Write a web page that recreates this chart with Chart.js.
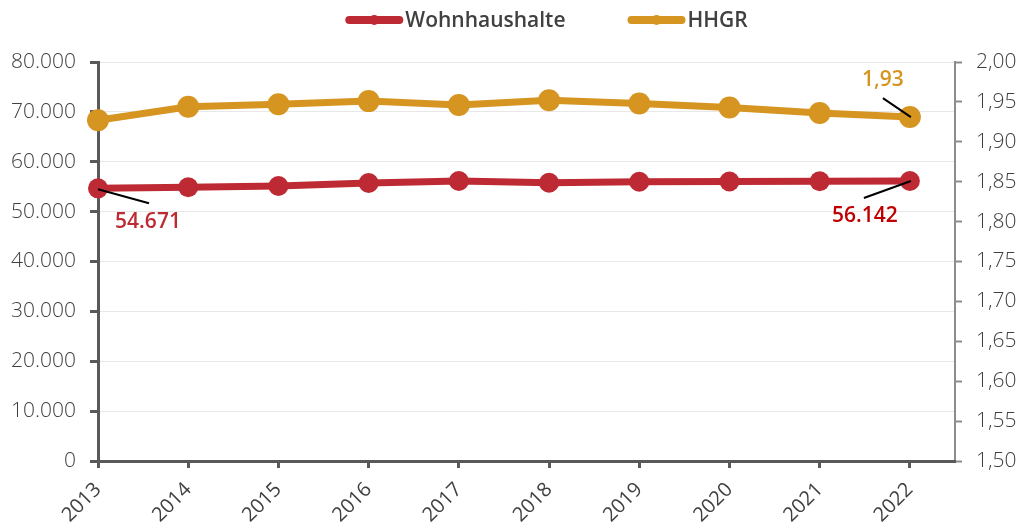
<!DOCTYPE html>
<html><head><meta charset="utf-8">
<script src="https://cdn.jsdelivr.net/npm/chart.js@4.4.1/dist/chart.umd.min.js"></script>
<style>html,body{margin:0;padding:0;background:#fff}#wrap{width:1023px;height:525px;position:relative}</style>
</head><body><div id="wrap"><canvas id="c"></canvas></div>
<script>
const years = [2013, 2014, 2015, 2016, 2017, 2018, 2019, 2020, 2021, 2022];
const wohnhaushalte = [54671, 54880, 55140, 55740, 56140, 55800, 56000, 56050, 56100, 56142];
const hhgr = [1.927, 1.944, 1.947, 1.951, 1.946, 1.952, 1.948, 1.943, 1.936, 1.931];
const leftTicks = [0, 10000, 20000, 30000, 40000, 50000, 60000, 70000, 80000];
const rightTicks = [1.50, 1.55, 1.60, 1.65, 1.70, 1.75, 1.80, 1.85, 1.90, 1.95, 2.00];
const seriesNames = ['Wohnhaushalte', 'HHGR'];
const seriesColors = ['#BE2A33', '#D69521'];
const callouts = ['54.671', '56.142', '1,93'];

const FONT = "'Open Sans', 'Noto Sans', sans-serif";
function fmtThousands(v) {
  return String(Math.round(v)).replace(/\B(?=(\d{3})+(?!\d))/g, '.');
}

const legendPlugin = {
  id: 'customLegend',
  afterDraw(chart) {
    const ctx = chart.ctx;
    ctx.save();
    ctx.font = '600 21px ' + FONT;
    ctx.textBaseline = 'middle';
    ctx.textAlign = 'left';
    const y = 20;
    const lineW = 58, gapText = 2, gapItem = 62;
    const widths = seriesNames.map(n => lineW + gapText + ctx.measureText(n).width);
    const total = widths.reduce((a, b) => a + b, 0) + gapItem;
    let x = chart.width / 2 - total / 2 + 35;
    seriesNames.forEach((name, i) => {
      ctx.strokeStyle = seriesColors[i];
      ctx.lineWidth = 8;
      ctx.lineCap = 'round';
      ctx.beginPath();
      ctx.moveTo(x + 4, y);
      ctx.lineTo(x + lineW - 4, y);
      ctx.stroke();
      ctx.fillStyle = seriesColors[i];
      ctx.beginPath();
      ctx.arc(x + lineW / 2, y, 5, 0, Math.PI * 2);
      ctx.fill();
      ctx.fillStyle = '#404040';
      ctx.fillText(name, x + lineW + gapText, y + 1);
      x += widths[i] + gapItem;
    });
    ctx.restore();
  }
};

const calloutPlugin = {
  id: 'callouts',
  afterDatasetsDraw(chart) {
    const ctx = chart.ctx;
    const w = chart.getDatasetMeta(0).data;
    const h = chart.getDatasetMeta(1).data;
    const p0 = w[0], p9 = w[w.length - 1], g9 = h[h.length - 1];
    ctx.save();
    ctx.strokeStyle = '#000';
    ctx.lineWidth = 2;
    ctx.beginPath();
    ctx.moveTo(p0.x, p0.y + 1); ctx.lineTo(p0.x + 51, p0.y + 15);
    ctx.moveTo(p9.x + 1, p9.y); ctx.lineTo(p9.x - 46, p9.y + 17);
    ctx.moveTo(g9.x + 1, g9.y); ctx.lineTo(g9.x - 27, g9.y - 19);
    ctx.stroke();
    ctx.font = '600 21px ' + FONT;
    ctx.textAlign = 'center';
    ctx.textBaseline = 'middle';
    ctx.fillStyle = '#BE2A33';
    ctx.fillText(callouts[0], p0.x + 50, p0.y + 34);
    ctx.fillStyle = '#C00000';
    ctx.fillText(callouts[1], p9.x - 45, p9.y + 35);
    ctx.fillStyle = '#D69521';
    ctx.fillText(callouts[2], g9.x - 27, g9.y - 37);
    ctx.restore();
  }
};

function build() {
  const tickFont = { family: FONT, size: 21, weight: '300' };
  const xFont = { family: FONT, size: 20, weight: '400' };
  new Chart(document.getElementById('c'), {
    type: 'line',
    data: {
      datasets: [
        {
          label: seriesNames[0],
          data: years.map((yr, i) => ({ x: yr, y: wohnhaushalte[i] })),
          yAxisID: 'y',
          borderColor: seriesColors[0],
          backgroundColor: seriesColors[0],
          borderWidth: 7,
          pointRadius: 10,
          pointBorderWidth: 0,
          pointBackgroundColor: seriesColors[0],
          tension: 0,
          clip: false
        },
        {
          label: seriesNames[1],
          data: years.map((yr, i) => ({ x: yr, y: hhgr[i] })),
          yAxisID: 'y1',
          borderColor: seriesColors[1],
          backgroundColor: seriesColors[1],
          borderWidth: 7,
          pointRadius: 11,
          pointBorderWidth: 0,
          pointBackgroundColor: seriesColors[1],
          tension: 0,
          clip: false
        }
      ]
    },
    options: {
      responsive: true,
      maintainAspectRatio: false,
      animation: false,
      devicePixelRatio: 1,
      layout: { padding: { top: 62, left: 0, right: 0, bottom: 0 } },
      plugins: { legend: { display: false }, tooltip: { enabled: false } },
      scales: {
        x: {
          type: 'linear',
          min: years[0],
          max: years[years.length - 1] + 0.5,
          afterBuildTicks: s => { s.ticks = years.map(v => ({ value: v })); },
          afterFit: s => { s.height = 64; },
          ticks: {
            autoSkip: false, minRotation: 45, maxRotation: 45,
            font: xFont, color: '#404040', padding: 10,
            callback: v => String(v)
          },
          grid: { drawOnChartArea: false, tickLength: 7, tickWidth: 3, tickColor: '#595959' },
          border: { color: '#595959', width: 3, z: 1 }
        },
        y: {
          position: 'left',
          min: 0, max: 80000,
          afterBuildTicks: s => { s.ticks = leftTicks.map(v => ({ value: v })); },
          afterFit: s => { s.width = 98; },
          ticks: { font: tickFont, color: '#404040', padding: 14, callback: v => fmtThousands(v) },
          grid: { color: '#e8e8e8', lineWidth: 1, tickLength: 8, tickWidth: 3, tickColor: '#595959' },
          border: { color: '#595959', width: 3 }
        },
        y1: {
          position: 'right',
          min: 1.5, max: 2.0,
          afterBuildTicks: s => { s.ticks = rightTicks.map(v => ({ value: v })); },
          afterFit: s => { s.width = 68; },
          ticks: { font: tickFont, color: '#404040', padding: 14, callback: v => v.toFixed(2).replace('.', ',') },
          grid: { drawOnChartArea: false, tickLength: 7, tickWidth: 2, tickColor: '#8c8c8c' },
          border: { color: '#8c8c8c', width: 2 }
        }
      }
    },
    plugins: [calloutPlugin, legendPlugin]
  });
}

if (document.fonts && document.fonts.load) {
  Promise.all([document.fonts.load("300 21px 'Open Sans'"), document.fonts.load("400 20px 'Open Sans'"), document.fonts.load("600 21px 'Open Sans'")])
    .then(build, build);
} else { build(); }
</script>
</body></html>
